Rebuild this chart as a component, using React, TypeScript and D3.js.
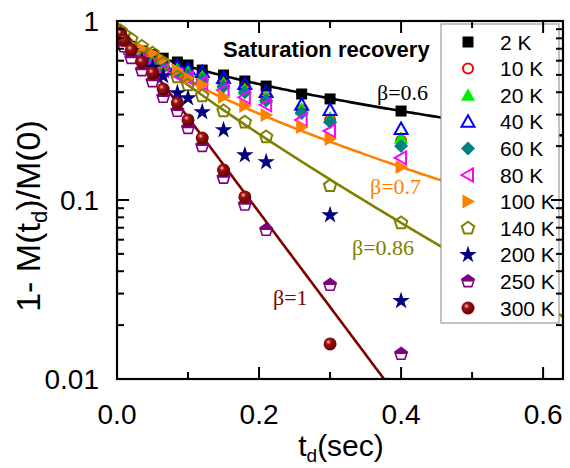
import React from "react";
import * as d3 from "d3";

// ---- data ----
const T_LOW = [0.005, 0.01, 0.02, 0.035, 0.05, 0.065, 0.085, 0.10, 0.12, 0.15, 0.18, 0.21, 0.26, 0.30, 0.40];
const T_HIGH = [0.005, 0.01, 0.02, 0.035, 0.05, 0.065, 0.085, 0.10, 0.12, 0.15, 0.18, 0.21, 0.30, 0.40];
const T_300 = [0.005, 0.01, 0.02, 0.035, 0.05, 0.065, 0.085, 0.10, 0.12, 0.15, 0.18, 0.30];

const V_2K = [0.80, 0.77, 0.72, 0.68, 0.65, 0.62, 0.59, 0.568, 0.532, 0.499, 0.462, 0.433, 0.391, 0.367, 0.314];
const V_10K = [0.76, 0.73, 0.68, 0.63, 0.59, 0.56, 0.53, 0.51, 0.48, 0.44, 0.41, 0.37, 0.318, 0.28, 0.214];
const V_20K = [0.77, 0.74, 0.69, 0.64, 0.60, 0.57, 0.54, 0.52, 0.49, 0.45, 0.415, 0.375, 0.322, 0.287, 0.222];
const V_40K = [0.78, 0.75, 0.70, 0.65, 0.61, 0.58, 0.56, 0.54, 0.519, 0.48, 0.445, 0.401, 0.340, 0.318, 0.249];
const V_60K = [0.75, 0.72, 0.67, 0.62, 0.58, 0.55, 0.52, 0.50, 0.47, 0.43, 0.40, 0.36, 0.306, 0.273, 0.200];
const V_80K = [0.74, 0.71, 0.66, 0.61, 0.57, 0.53, 0.50, 0.48, 0.45, 0.41, 0.375, 0.34, 0.280, 0.243, 0.172];
const V_100K = [0.80, 0.78, 0.74, 0.70, 0.66, 0.61, 0.53, 0.48, 0.44, 0.376, 0.335, 0.298, 0.256, 0.219, 0.153];
const V_140K = [0.88, 0.84, 0.79, 0.72, 0.66, 0.58, 0.486, 0.439, 0.381, 0.314, 0.272, 0.225, 0.120, 0.0744];
const V_200K = [0.78, 0.74, 0.68, 0.60, 0.55, 0.493, 0.396, 0.371, 0.310, 0.246, 0.178, 0.163, 0.0824, 0.0273];
const V_250K = [0.78, 0.72, 0.62, 0.53, 0.46, 0.376, 0.314, 0.252, 0.20, 0.133, 0.094, 0.068, 0.0335, 0.0138];
const V_300K = [0.85, 0.78, 0.69, 0.59, 0.512, 0.417, 0.348, 0.280, 0.222, 0.147, 0.104, 0.0157];

const SERIES_NAMES = ["2 K", "10 K", "20 K", "40 K", "60 K", "80 K", "100 K", "140 K", "200 K", "250 K", "300 K"];
const SERIES_KINDS = ["square", "circleOpen", "triUp", "triUpOpen", "diamond", "triLeftOpen", "triRight", "pentOpen", "star", "pentHalf", "sphere"];
const SERIES_COLORS = ["#000000", "#ff0000", "#00ee00", "#0000ff", "#008080", "#ff00ff", "#ff8000", "#808000", "#000080", "#800080", "#800000"];
const SERIES_T = [T_LOW, T_LOW, T_LOW, T_LOW, T_LOW, T_LOW, T_LOW, T_HIGH, T_HIGH, T_HIGH, T_300];
const SERIES_V = [V_2K, V_10K, V_20K, V_40K, V_60K, V_80K, V_100K, V_140K, V_200K, V_250K, V_300K];

// stretched exponential fits: A * exp(-(t/T1)^beta)
const FIT_A = [0.87, 0.91, 0.95, 0.98];
const FIT_T1 = [0.388, 0.175, 0.135, 0.082];
const FIT_BETA = [0.6, 0.7, 0.86, 1];
const FIT_COLORS = ["#000000", "#ff8000", "#808000", "#800000"];
const FIT_LABELS = ["β=0.6", "β=0.7", "β=0.86", "β=1"];
const FIT_LABEL_POS = [[377, 100], [370, 194], [352, 255], [273, 305]];

const X_TICKS_MAJOR = [0, 0.2, 0.4, 0.6];
const X_TICKS_MINOR = [0.1, 0.3, 0.5];
const X_TICK_LABELS = ["0.0", "0.2", "0.4", "0.6"];
const Y_TICKS_MAJOR = [1, 0.1, 0.01];
const Y_TICK_LABELS = ["1", "0.1", "0.01"];

const W = 570, H = 468;
const L = 117, R = 563, TOP = 21, B = 379;

const x = d3.scaleLinear().domain([0, 0.628]).range([L, R]);
const y = d3.scaleLog().domain([0.01, 1]).range([B, TOP]);

const SANS = "'Liberation Sans', Arial, sans-serif";
const SERIF = "'Liberation Serif', 'Times New Roman', serif";

function pentPts(r: number) {
  const pts: [number, number][] = [];
  for (let i = 0; i < 5; i++) {
    const a = (-90 + i * 72) * Math.PI / 180;
    pts.push([r * Math.cos(a), r * Math.sin(a)]);
  }
  return pts;
}
const poly = (pts: number[][]) => "M" + pts.map(p => p[0].toFixed(2) + "," + p[1].toFixed(2)).join("L") + "Z";

function Marker({ kind, cx, cy, color }: { kind: string; cx: number; cy: number; color: string }) {
  const tr = `translate(${cx},${cy})`;
  switch (kind) {
    case "square":
      return <rect x={cx - 5.5} y={cy - 5.5} width={11} height={11} fill={color} />;
    case "circleOpen":
      return <circle cx={cx} cy={cy} r={5} fill="none" stroke={color} strokeWidth={2} />;
    case "triUp":
      return <path transform={tr} d={poly([[0, -7], [7, 5.5], [-7, 5.5]])} fill={color} />;
    case "triUpOpen":
      return <path transform={tr} d={poly([[0, -6.5], [6.5, 5], [-6.5, 5]])} fill="none" stroke={color} strokeWidth={2} />;
    case "diamond":
      return <path transform={tr} d={poly([[0, -7], [7, 0], [0, 7], [-7, 0]])} fill={color} />;
    case "triLeftOpen":
      return <path transform={tr} d={poly([[-6.5, 0], [5, -6.5], [5, 6.5]])} fill="none" stroke={color} strokeWidth={2} />;
    case "triRight":
      return <path transform={tr} d={poly([[7, 0], [-5.5, -7], [-5.5, 7]])} fill={color} />;
    case "pentOpen":
      return <path transform={tr} d={poly(pentPts(6.5))} fill="none" stroke={color} strokeWidth={2} />;
    case "star":
      return <path transform={tr} d={d3.symbol(d3.symbolStar, 95)() as string} fill={color} />;
    case "pentHalf": {
      const r = 6.5;
      const top = [[0, -r], [0.951 * r, -0.309 * r], [0.851 * r, 0], [-0.851 * r, 0], [-0.951 * r, -0.309 * r]];
      return (
        <g transform={tr}>
          <path d={poly(pentPts(r))} fill="#fff" stroke={color} strokeWidth={1.6} />
          <path d={poly(top)} fill={color} />
        </g>
      );
    }
    case "sphere":
      return <circle cx={cx} cy={cy} r={6.5} fill="url(#sphereGrad)" />;
    default:
      return null;
  }
}

export default function App() {
  const fitLine = d3.line<number>();
  const ts = d3.range(0, 0.63, 0.002);

  const legendX = 441, legendY = 24, legendW = 118, legendH = 299;
  const rowY0 = 42, rowStep = 26.6;

  return (
    <svg width={W} height={H} style={{ display: "block", position: "absolute", left: 0, top: 0, background: "#fff" }}>
      <defs>
        <radialGradient id="sphereGrad" cx="0.38" cy="0.35" r="0.65">
          <stop offset="0" stopColor="#f3c8c8" />
          <stop offset="0.3" stopColor="#a01010" />
          <stop offset="1" stopColor="#600000" />
        </radialGradient>
        <clipPath id="plotClip">
          <rect x={L} y={TOP} width={R - L} height={B - TOP} />
        </clipPath>
      </defs>

      {/* fit lines */}
      <g clipPath="url(#plotClip)">
        {FIT_A.map((A, i) => {
          const pts = ts.map(t => [x(t), y(A * Math.exp(-Math.pow(t / FIT_T1[i], FIT_BETA[i])))] as [number, number])
            .filter(p => isFinite(p[1]) && p[1] < B + 50);
          return <path key={i} d={fitLine(pts as any) as string} fill="none" stroke={FIT_COLORS[i]} strokeWidth={2.6} />;
        })}
      </g>

      {/* data points */}
      <g clipPath="url(#plotClip)">
        {SERIES_V.map((vals, si) =>
          vals.map((v, j) => (
            <Marker key={si + "-" + j} kind={SERIES_KINDS[si]} cx={x(SERIES_T[si][j])} cy={y(v)} color={SERIES_COLORS[si]} />
          ))
        )}
      </g>

      {/* fit labels */}
      {FIT_LABELS.map((lab, i) => (
        <text key={i} x={FIT_LABEL_POS[i][0]} y={FIT_LABEL_POS[i][1]} fontFamily={SERIF} fontSize={22} fill={FIT_COLORS[i]}>{lab}</text>
      ))}

      {/* title */}
      <text x={223} y={57} fontFamily={SANS} fontWeight="bold" fontSize={22} fill="#000">Saturation recovery</text>

      {/* legend */}
      <rect x={legendX} y={legendY} width={legendW} height={legendH} fill="#fff" stroke="#888" strokeWidth={1} />
      {SERIES_NAMES.map((name, i) => {
        const ry = rowY0 + i * rowStep;
        return (
          <g key={name}>
            <Marker kind={SERIES_KINDS[i]} cx={468} cy={ry} color={SERIES_COLORS[i]} />
            <text x={500} y={ry + 7.5} fontFamily={SANS} fontSize={21} fill="#000">{name}</text>
          </g>
        );
      })}

      {/* frame */}
      <rect x={L} y={TOP} width={R - L} height={B - TOP} fill="none" stroke="#000" strokeWidth={2.2} />

      {/* x ticks */}
      {X_TICKS_MAJOR.map(t => (
        <g key={"xM" + t}>
          <line x1={x(t)} x2={x(t)} y1={B} y2={B - 12} stroke="#000" strokeWidth={2} />
          <line x1={x(t)} x2={x(t)} y1={TOP} y2={TOP + 12} stroke="#000" strokeWidth={2} />
        </g>
      ))}
      {X_TICKS_MINOR.map(t => (
        <g key={"xm" + t}>
          <line x1={x(t)} x2={x(t)} y1={B} y2={B - 7} stroke="#000" strokeWidth={2} />
          <line x1={x(t)} x2={x(t)} y1={TOP} y2={TOP + 7} stroke="#000" strokeWidth={2} />
        </g>
      ))}
      {X_TICKS_MAJOR.map((t, i) => (
        <text key={"xl" + t} x={x(t)} y={424} textAnchor="middle" fontFamily={SANS} fontSize={28} fill="#000">{X_TICK_LABELS[i]}</text>
      ))}

      {/* y ticks */}
      {y.ticks().map((v, i) => {
        const major = Y_TICKS_MAJOR.some(m => Math.abs(m - v) < 1e-9);
        const len = major ? 12 : 7;
        return (
          <g key={"y" + i}>
            <line x1={L} x2={L + len} y1={y(v)} y2={y(v)} stroke="#000" strokeWidth={2} />
            <line x1={R} x2={R - len} y1={y(v)} y2={y(v)} stroke="#000" strokeWidth={2} />
          </g>
        );
      })}
      {Y_TICKS_MAJOR.map((v, i) => (
        <text key={"yl" + v} x={99} y={y(v) + 10} textAnchor="end" fontFamily={SANS} fontSize={28} fill="#000">{Y_TICK_LABELS[i]}</text>
      ))}

      {/* axis titles */}
      <text x={341} y={456} textAnchor="middle" fontFamily={SANS} fontSize={30} fill="#000">
        t<tspan fontSize={19} dy={6}>d</tspan><tspan dy={-6}>(sec)</tspan>
      </text>
      <text transform="translate(40,216) rotate(-90)" textAnchor="middle" fontFamily={SANS} fontSize={34} fill="#000">
        1- M(t<tspan fontSize={22} dy={7}>d</tspan><tspan dy={-7}>)/M(0)</tspan>
      </text>
    </svg>
  );
}
